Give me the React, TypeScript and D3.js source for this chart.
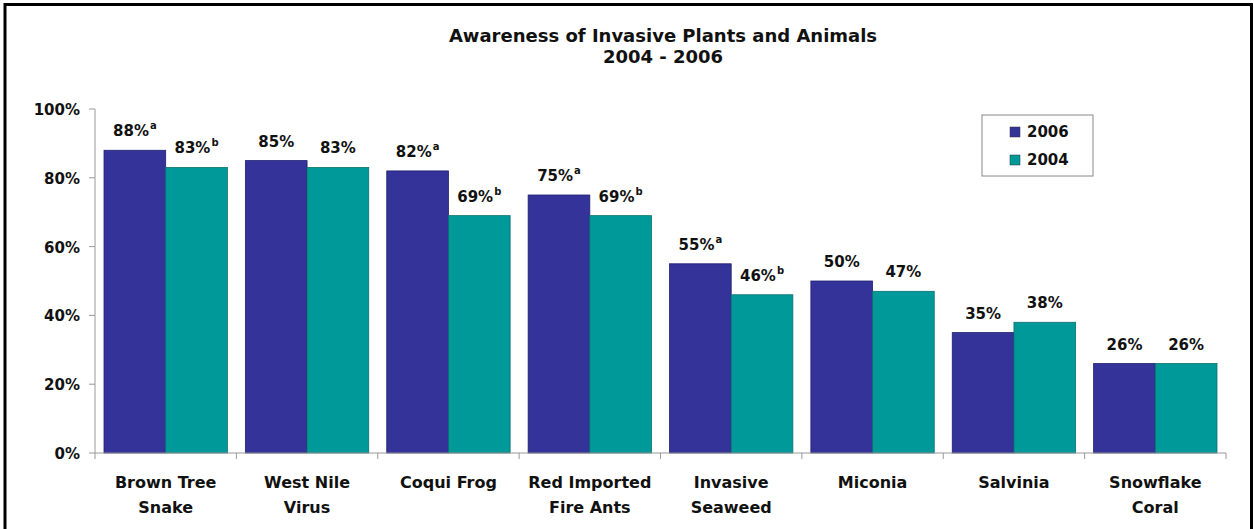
import React, { useEffect, useRef } from 'react';
import * as d3 from 'd3';

const categories = [
  ['Brown Tree', 'Snake'],
  ['West Nile', 'Virus'],
  ['Coqui Frog'],
  ['Red Imported', 'Fire Ants'],
  ['Invasive', 'Seaweed'],
  ['Miconia'],
  ['Salvinia'],
  ['Snowflake', 'Coral'],
];
const values2006 = [88, 85, 82, 75, 55, 50, 35, 26];
const values2004 = [83, 83, 69, 69, 46, 47, 38, 26];
const sup2006 = ['a', '', 'a', 'a', 'a', '', '', ''];
const sup2004 = ['b', '', 'b', 'b', 'b', '', '', ''];
const yTicks = [0, 20, 40, 60, 80, 100];
const seriesNames = ['2006', '2004'];
const seriesColors = ['#333399', '#009999'];

const W = 1254;
const H = 529;
const FONT = 'DejaVu Sans, Verdana, sans-serif';

const App: React.FC = () => {
  const ref = useRef<SVGSVGElement | null>(null);

  useEffect(() => {
    if (!ref.current) return;
    const svg = d3.select(ref.current);
    svg.selectAll('*').remove();

    const left = 95;
    const right = 1226;
    const top = 109;
    const bottom = 453;

    svg.append('rect').attr('width', W).attr('height', H).attr('fill', '#fff');
    svg
      .append('rect')
      .attr('x', 5)
      .attr('y', 4.5)
      .attr('width', 1246.5)
      .attr('height', 560)
      .attr('fill', 'none')
      .attr('stroke', '#000')
      .attr('stroke-width', 3);

    // title
    const title = svg
      .append('text')
      .attr('text-anchor', 'middle')
      .attr('font-family', FONT)
      .attr('font-weight', 'bold')
      .attr('font-size', 18)
      .attr('fill', '#111');
    title.append('tspan').attr('x', 663).attr('y', 42).text('Awareness of Invasive Plants and Animals');
    title.append('tspan').attr('x', 663).attr('y', 63).text('2004 - 2006');

    const x = d3
      .scaleBand<number>()
      .domain(d3.range(categories.length))
      .range([left, right])
      .paddingInner(0)
      .paddingOuter(0);
    const inner = d3.scaleBand<number>().domain([0, 1]).range([0, x.bandwidth()]).paddingOuter(0.146);
    const y = d3.scaleLinear().domain([0, 100]).range([bottom, top]);

    // y axis
    const ya = svg.append('g');
    ya.append('line')
      .attr('x1', left).attr('x2', left).attr('y1', top).attr('y2', bottom)
      .attr('stroke', '#999').attr('stroke-width', 1);
    yTicks.forEach((t) => {
      ya.append('line')
        .attr('x1', left - 6).attr('x2', left).attr('y1', y(t)).attr('y2', y(t))
        .attr('stroke', '#999');
      ya.append('text')
        .attr('x', 80)
        .attr('y', y(t) + 6)
        .attr('text-anchor', 'end')
        .attr('font-family', FONT)
        .attr('font-weight', 'bold')
        .attr('font-size', 15)
        .attr('fill', '#111')
        .text(`${t}%`);
    });

    // bars
    const series = [values2006, values2004];
    const sups = [sup2006, sup2004];
    series.forEach((vals, si) => {
      const g = svg.append('g');
      g.selectAll('rect')
        .data(vals)
        .enter()
        .append('rect')
        .attr('x', (_d, i) => (x(i) as number) + (inner(si) as number))
        .attr('y', (d) => y(d))
        .attr('width', inner.bandwidth())
        .attr('height', (d) => bottom - y(d))
        .attr('fill', seriesColors[si])
        .attr('stroke', si === 0 ? '#1f1f6e' : '#0a6f6f')
        .attr('stroke-width', 0.8);

      vals.forEach((v, i) => {
        const cx = (x(i) as number) + (inner(si) as number) + inner.bandwidth() / 2;
        const t = g
          .append('text')
          .attr('x', cx)
          .attr('y', y(v) - 14)
          .attr('text-anchor', 'middle')
          .attr('font-family', FONT)
          .attr('font-weight', 'bold')
          .attr('font-size', 15)
          .attr('fill', '#111');
        t.append('tspan').text(`${v}%`);
        if (sups[si][i]) {
          t.append('tspan').attr('dx', 1).attr('dy', -7).attr('font-size', 10).text(sups[si][i]);
        }
      });
    });

    // x axis
    const xa = svg.append('g');
    xa.append('line')
      .attr('x1', left).attr('x2', right).attr('y1', bottom).attr('y2', bottom)
      .attr('stroke', '#999');
    d3.range(categories.length + 1).forEach((i) => {
      const xx = left + i * x.step();
      xa.append('line')
        .attr('x1', xx).attr('x2', xx).attr('y1', bottom).attr('y2', bottom + 6)
        .attr('stroke', '#999');
    });
    categories.forEach((lines, i) => {
      const t = xa
        .append('text')
        .attr('text-anchor', 'middle')
        .attr('font-family', FONT)
        .attr('font-weight', 'bold')
        .attr('font-size', 16)
        .attr('fill', '#111');
      const cx = (x(i) as number) + x.bandwidth() / 2;
      lines.forEach((ln, li) => {
        t.append('tspan').attr('x', cx).attr('y', 488 + li * 25).text(ln);
      });
    });

    // legend
    const lg = svg.append('g');
    lg.append('rect')
      .attr('x', 982).attr('y', 115).attr('width', 111).attr('height', 61)
      .attr('fill', '#fff').attr('stroke', '#888').attr('stroke-width', 1);
    seriesNames.forEach((n, i) => {
      lg.append('rect')
        .attr('x', 1010).attr('y', 127 + i * 28).attr('width', 10).attr('height', 10)
        .attr('fill', seriesColors[i]).attr('stroke', '#333').attr('stroke-width', 0.5);
      lg.append('text')
        .attr('x', 1027).attr('y', 137 + i * 28)
        .attr('font-family', FONT)
        .attr('font-weight', 'bold')
        .attr('font-size', 15)
        .attr('fill', '#111')
        .text(n);
    });
  }, []);

  return (
    <div style={{ position: 'absolute', left: 0, top: 0 }}>
      <svg ref={ref} width={W} height={H} style={{ display: 'block' }} />
    </div>
  );
};

export default App;
